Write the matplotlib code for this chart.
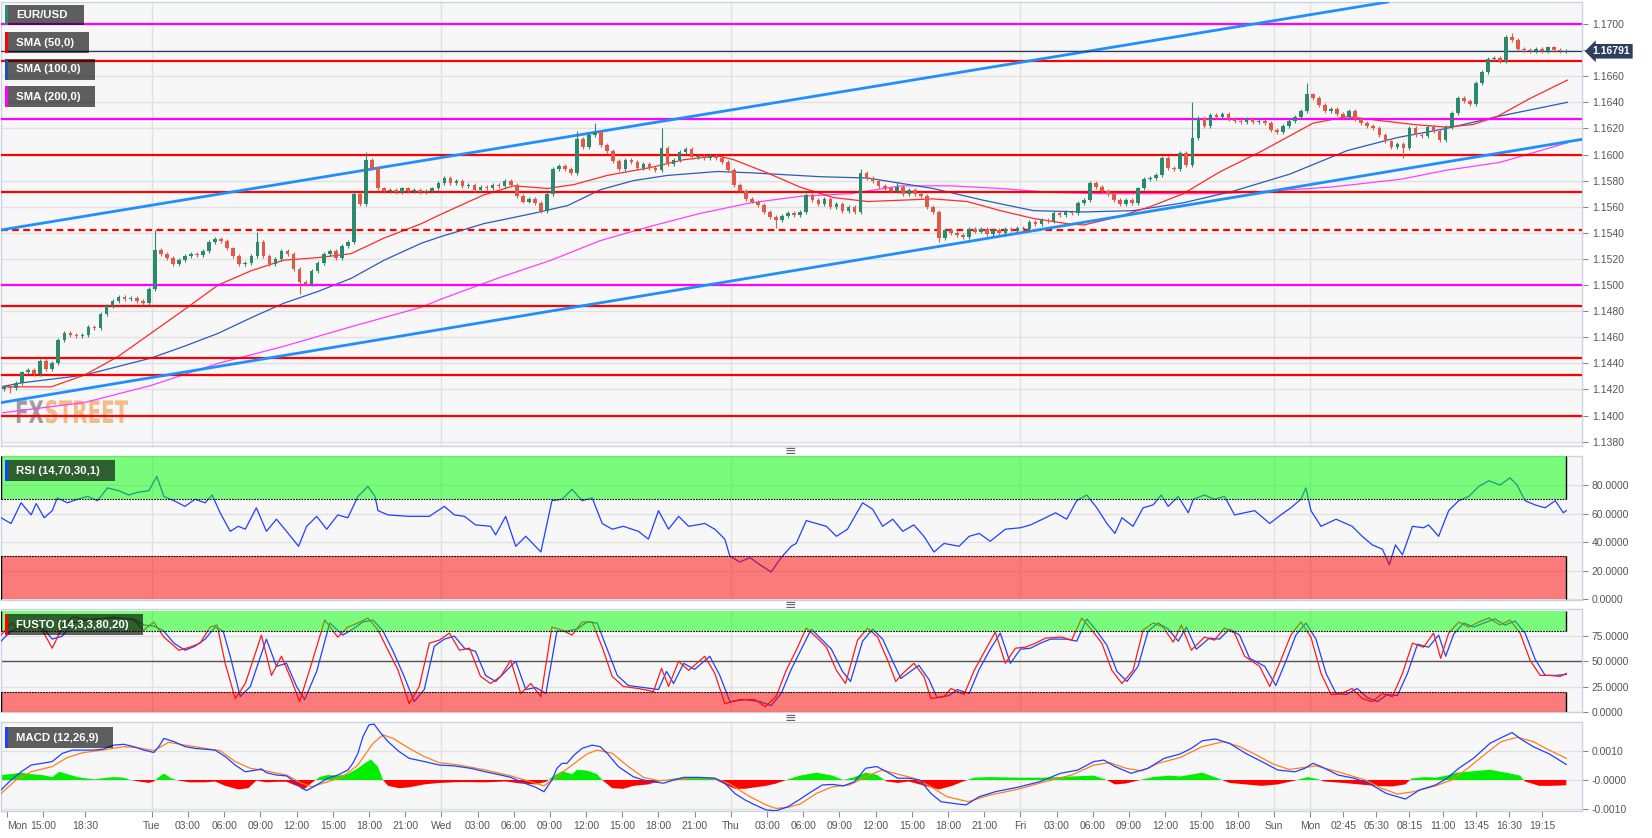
import numpy as np
import matplotlib.pyplot as plt
from matplotlib.patches import Rectangle, PathPatch
from matplotlib.textpath import TextPath
from matplotlib.font_manager import FontProperties
from matplotlib.transforms import blended_transform_factory, Affine2D

plt.rcParams['font.family'] = ['Liberation Sans', 'DejaVu Sans']

W, H = 1652, 838

# ===== time axis: 5-minute steps from Mon 11:30 (weekend removed) =====
tick_pos = [6, 42, 84, 150, 186, 222, 258, 294, 330, 366, 402,
            438, 474, 510, 546, 582, 618, 654, 690,
            726, 762, 798, 834, 870, 906, 942, 978,
            1014, 1050, 1086, 1122, 1158, 1194, 1230,
            1266, 1302, 1335, 1368, 1401, 1434, 1467, 1500, 1533]
tick_lbl = ['Mon', '15:00', '18:30', 'Tue', '03:00', '06:00', '09:00', '12:00', '15:00', '18:00', '21:00',
            'Wed', '03:00', '06:00', '09:00', '12:00', '15:00', '18:00', '21:00',
            'Thu', '03:00', '06:00', '09:00', '12:00', '15:00', '18:00', '21:00',
            'Fri', '03:00', '06:00', '09:00', '12:00', '15:00', '18:00',
            'Sun', 'Mon', '02:45', '05:30', '08:15', '11:00', '13:45', '16:30', '19:15']
day_lines = [150, 438, 726, 1014, 1266, 1302]

# ===== EUR/USD 30-min closes, pips above 1.1400 =====
first_open = 20
close_pips = [22, 21, 25, 33, 35, 32, 42, 36, 40, 58,
              63, 62, 61, 62, 68, 67, 78, 84, 88, 91,
              89, 90, 88, 86, 97, 127, 124, 121, 116, 119,
              122, 124, 123, 126, 133, 135, 134, 128, 122, 116,
              117, 122, 133, 122, 116, 120, 126, 124, 112, 102,
              101, 111, 117, 124, 126, 121, 130, 133, 170, 162,
              196, 190, 174, 172, 173, 171, 174, 172, 173, 171,
              172, 174, 178, 182, 178, 180, 176, 177, 173, 175,
              174, 177, 176, 180, 177, 168, 164, 166, 163, 157,
              170, 189, 191, 189, 186, 212, 206, 215, 217, 207,
              203, 195, 189, 196, 194, 190, 193, 190, 188, 205,
              193, 196, 202, 204, 198, 199, 197, 199, 197, 194,
              188, 177, 172, 166, 164, 161, 156, 152, 150, 153,
              155, 154, 156, 169, 165, 162, 166, 160, 162, 157,
              160, 156, 186, 182, 180, 176, 174, 172, 175, 170,
              173, 170, 168, 160, 156, 136, 142, 140, 138, 137,
              143, 141, 143, 139, 142, 140, 143, 142, 144, 143,
              148, 147, 150, 149, 155, 154, 156, 155, 163, 165,
              178, 175, 172, 170, 165, 162, 165, 163, 174, 181,
              182, 184, 197, 190, 189, 201, 192, 213, 228, 222,
              230, 229, 231, 227, 226, 225, 227, 225, 226, 224,
              219, 217, 222, 226, 229, 233, 246, 243, 238, 233,
              235, 231, 229, 233, 227, 224, 222, 220, 215, 210,
              206, 208, 205, 220, 215, 214, 221, 218, 211, 221,
              232, 243, 241, 239, 255, 263, 273, 274, 272, 290,
              288, 281, 280, 279, 281, 279, 282, 280, 279, 279.1]
# bar index: (high, low) in pips where the wick stands out
wick_extremes = {1: (None, 17), 25: (142, None), 42: (141, None), 49: (None, 93), 60: (202, None),
                 95: (218, None), 98: (224, None), 109: (220, None), 128: (None, 144),
                 142: (189, None), 148: (179, None), 155: (None, 133), 197: (240, None),
                 216: (255, None), 232: (None, 197), 250: (293, None)}

# ===== moving averages (time, pips) =====
sma50_t = [0, 50, 83, 116, 149, 182, 216, 249, 281, 315, 348, 381, 398, 418, 437, 480, 510, 544, 570, 603,
           646, 679, 713, 729, 762, 795, 828, 862, 895, 927, 961, 994, 1027, 1061, 1077, 1110, 1143, 1176,
           1213, 1255, 1305, 1339, 1372, 1405, 1438, 1464, 1488, 1521, 1558]
sma50_v = [22, 22, 31, 45, 63, 81, 100, 111, 119, 121, 124, 136, 141, 147, 154, 169, 176, 174, 177, 184,
           190, 196, 199, 196, 186, 175, 167, 164, 165, 166, 164, 157, 151, 147, 146, 152, 160, 170,
           187, 203, 224, 229, 226, 223, 221, 223, 229, 243, 257]
sma100_t = [0, 20, 83, 149, 182, 216, 249, 281, 315, 348, 381, 398, 418, 437, 480, 530, 564, 596, 629, 663,
            713, 746, 815, 862, 927, 977, 1027, 1077, 1126, 1176, 1226, 1282, 1339, 1389, 1438, 1488, 1558]
sma100_v = [22, 25, 31, 44, 53, 63, 75, 86, 95, 105, 119, 125, 132, 137, 147, 155, 161, 173, 180, 184,
            187, 186, 183, 182, 174, 165, 157, 156, 157, 163, 172, 185, 203, 213, 220, 229, 240]
sma200_t = [0, 83, 149, 216, 281, 348, 418, 437, 497, 547, 596, 646, 696, 746, 795, 845, 895, 944, 994,
            1044, 1093, 1213, 1262, 1322, 1392, 1438, 1491, 1558]
sma200_v = [2, 10, 23, 40, 53, 68, 83, 89, 106, 119, 134, 145, 155, 163, 168, 170, 176, 176, 174,
            171, 170, 170, 172, 175, 181, 188, 194, 209]

# ===== support / resistance and channel =====
red_levels = [1.1672, 1.1600, 1.1571, 1.1484, 1.1444, 1.1431, 1.1400]
dashed_level = 1.1542
magenta_levels = [1.1700, 1.1627, 1.1500]
channel_upper = [(0, 1.15422), (1573, 1.17414)]
channel_lower = [(0, 1.14099), (1573, 1.16117)]

# ===== RSI =====
rsi_t = [0, 10, 20, 30, 35, 43, 51, 56, 66, 76, 86, 96, 106, 117, 127, 137, 147, 155, 162, 172,
         183, 193, 203, 210, 218, 228, 236, 243, 254, 264, 274, 284, 296, 304, 314, 324, 335, 345, 355, 365,
         372, 375, 385, 406, 426, 441, 451, 461, 472, 487, 492, 502, 512, 522, 537, 548, 558, 568, 578, 588,
         598, 608, 619, 634, 644, 654, 664, 674, 684, 700, 710, 720, 725, 735, 745, 755, 766, 776, 786, 791,
         801, 811, 821, 831, 842, 857, 867, 877, 887, 897, 908, 918, 928, 938, 953, 963, 973, 984, 999, 1014,
         1024, 1039, 1049, 1060, 1070, 1080, 1090, 1100, 1108, 1115, 1126, 1136, 1146, 1154, 1161, 1171,
         1181, 1186, 1197, 1207, 1217, 1227, 1247, 1262, 1273, 1283, 1293, 1298, 1303, 1313,
         1328, 1344, 1354, 1364, 1374, 1381, 1387, 1394, 1404, 1415, 1420, 1430, 1440, 1450, 1460, 1470,
         1480, 1491, 1501, 1508, 1516, 1526, 1536, 1546, 1554, 1557]
rsi_v = [57, 53, 67.5, 59, 67, 57, 62, 71, 67.5, 70, 72, 69, 78, 76, 73, 75, 76, 86, 72, 69,
         65, 70, 67.5, 73, 60.5, 47.5, 51, 49, 64, 47.5, 56, 47.5, 37, 51, 58, 49, 59, 57, 72, 79,
         72, 62, 59, 58, 58, 65, 59, 58, 52, 51, 45, 58, 37, 44, 33, 69, 70, 77, 69, 71,
         53, 49, 51, 47.5, 42, 62, 49, 58, 51, 53, 49, 42, 30, 26, 29, 24, 19, 29, 37, 39,
         55, 53, 51, 44, 49, 67.5, 63, 51, 56, 47.5, 52, 44, 33, 39, 37, 44, 46, 40.5, 49, 50,
         52, 57, 60.5, 56, 69, 73, 64, 53, 46, 57, 51, 64, 66, 73, 65, 72,
         60.5, 70, 73, 70, 72, 59, 62, 53, 59, 64, 70, 78, 62, 51,
         56, 51, 44, 38, 35, 24, 38, 31, 51, 50, 52, 44, 62, 69, 72, 79,
         83, 80, 85, 80, 69, 66, 64, 69, 60.5, 62]

# ===== Full stochastic: fast (red) and slow (blue) =====
sto_red_t = [0, 10, 20, 30, 41, 51, 61, 71, 91, 112, 132, 142, 152, 162, 177, 188, 198, 208, 215, 223,
             233, 243, 259, 269, 279, 289, 297, 309, 322, 335, 345, 355, 365, 375, 385, 395, 406, 416, 426, 436,
             446, 456, 466, 477, 487, 497, 507, 517, 527, 537, 548, 558, 568, 578, 588, 598, 608, 619, 634, 649,
             657, 664, 674, 684, 700, 710, 720, 735, 750, 760, 771, 781, 791, 801, 811, 821, 831, 840, 852, 862,
             872, 882, 890, 897, 908, 918, 925, 938, 945, 958, 968, 979, 989, 999, 1009, 1019, 1029, 1039, 1055,
             1065, 1075, 1085, 1095, 1105, 1115, 1126, 1136, 1146, 1156, 1166, 1174, 1184, 1197, 1207, 1217,
             1227, 1237, 1252, 1262, 1273, 1283, 1293, 1303, 1313, 1323, 1333, 1344, 1354, 1364, 1374,
             1384, 1394, 1404, 1415, 1425, 1432, 1440, 1450, 1460, 1470, 1480, 1491, 1501, 1511, 1521, 1531,
             1541, 1551, 1557]
sto_red_v = [76, 88, 81, 88, 81, 63, 84, 94, 91, 94, 91, 81, 89, 74, 61, 64, 68, 84, 86, 48,
             13, 28, 76, 36, 55, 31, 10, 48, 91, 74, 84, 88, 93, 81, 61, 41, 8, 25, 68, 71,
             78, 61, 63, 35, 28, 35, 51, 18, 28, 15, 84, 81, 76, 89, 89, 64, 35, 25, 23, 20,
             43, 25, 50, 41, 55, 38, 8, 12, 12, 5, 15, 41, 61, 83, 74, 64, 41, 28, 71, 83,
             74, 51, 30, 38, 48, 35, 13, 15, 23, 17, 41, 61, 79, 48, 63, 64, 68, 73, 74,
             71, 93, 81, 68, 41, 28, 41, 81, 88, 84, 69, 86, 61, 74, 71, 83,
             78, 55, 45, 25, 51, 76, 89, 74, 38, 17, 18, 23, 13, 10, 18,
             15, 38, 68, 64, 78, 53, 78, 89, 84, 89, 93, 86, 91, 78, 51, 36,
             36, 35, 38]
sto_blue_t = [0, 10, 20, 30, 41, 51, 61, 71, 91, 112, 132, 142, 152, 162, 172, 183, 193, 203, 213, 221,
              228, 238, 248, 264, 274, 284, 294, 302, 314, 327, 340, 350, 360, 370, 380, 390, 401, 411, 421, 431,
              441, 451, 461, 472, 482, 492, 502, 512, 522, 532, 542, 553, 563, 573, 583, 593, 603, 613, 624, 639,
              654, 662, 669, 679, 690, 705, 715, 725, 740, 755, 766, 776, 786, 796, 806, 816, 826, 837, 845, 857,
              867, 877, 887, 895, 902, 913, 923, 931, 943, 951, 963, 973, 984, 994, 1004, 1014, 1024, 1034, 1044,
              1060, 1070, 1080, 1090, 1100, 1110, 1120, 1131, 1141, 1151, 1161, 1171, 1179, 1189, 1202, 1212,
              1222, 1232, 1242, 1257, 1268, 1278, 1288, 1298, 1308, 1318, 1328, 1338, 1349, 1359, 1369,
              1379, 1389, 1399, 1409, 1420, 1430, 1437, 1445, 1455, 1465, 1475, 1486, 1496, 1506, 1516, 1526,
              1536, 1546, 1557]
sto_blue_v = [70, 80, 84, 84, 84, 72, 75, 88, 92, 93, 92, 86, 85, 80, 68, 61, 65, 72, 84, 80,
              55, 15, 25, 72, 45, 48, 25, 12, 40, 88, 76, 82, 89, 91, 80, 60, 35, 10, 22, 65,
              72, 75, 63, 60, 36, 30, 40, 50, 22, 24, 18, 80, 80, 82, 89, 88, 62, 36, 26, 24,
              22, 40, 28, 48, 42, 55, 36, 10, 12, 10, 6, 18, 42, 62, 82, 72, 62, 40, 30, 70,
              82, 72, 50, 33, 38, 46, 32, 14, 16, 22, 18, 42, 62, 78, 48, 62, 63, 68, 72,
              72, 70, 92, 80, 66, 40, 30, 45, 80, 88, 82, 70, 84, 62, 73, 72,
              82, 76, 53, 45, 26, 50, 76, 88, 72, 38, 18, 17, 23, 14, 10,
              17, 16, 38, 67, 64, 76, 55, 77, 88, 84, 88, 92, 86, 90, 78, 52,
              36, 36, 37]

# ===== MACD (12,26,9), values x 0.001 =====
macd_t = [0, 10, 20, 30, 41, 51, 61, 71, 81, 91, 101, 112, 122, 132, 142, 152, 157, 162, 172, 183,
          193, 203, 213, 223, 233, 243, 254, 259, 264, 274, 284, 292, 299, 304, 314, 325, 335, 345, 350, 355,
          360, 366, 371, 378, 385, 396, 406, 421, 436, 451, 467, 482, 497, 507, 517, 532, 540, 548, 553, 558,
          563, 570, 578, 588, 596, 603, 614, 629, 639, 649, 659, 669, 679, 695, 710, 720, 730, 740, 750, 761,
          771, 783, 795, 806, 817, 827, 838, 849, 860, 871, 881, 892, 903, 914, 925, 935, 952, 960, 973, 989,
          1011, 1033, 1054, 1071, 1087, 1097, 1108, 1124, 1141, 1157, 1173, 1184, 1195, 1208, 1222, 1238,
          1254, 1270, 1287, 1297, 1305, 1313, 1330, 1346, 1362, 1378, 1389, 1397, 1411, 1427,
          1438, 1450, 1465, 1481, 1492, 1503, 1513, 1524, 1540, 1557]
macd_v = [-0.34, 0, 0.28, 0.51, 0.57, 0.63, 0.91, 1.02, 1.02, 1.02, 1.05, 1.19, 1.22, 1.14, 1.02, 0.94,
          1.14, 1.42, 1.31, 1.14, 1.08, 1.05, 1.02, 0.80, 0.51, 0.28, 0.34, 0.38, 0.25, 0.17,
          0.14, -0.06, -0.28, -0.36, -0.17, 0.06, 0.17, 0.34, 0.57, 0.91,
          1.48, 1.88, 1.91, 1.59, 1.31, 0.97, 0.74, 0.63, 0.51, 0.48, 0.40, 0.28, 0.17, 0.09, -0.06, -0.25,
          -0.40, 0, 0.40, 0.57, 0.57, 0.85, 1.08, 1.19, 1.14, 0.91, 0.46, 0.11, 0, -0.06,
          -0.11, 0, 0.09, 0.09, 0.06, -0.11, -0.46, -0.68, -0.85, -1.02,
          -1.05, -0.91, -0.65, -0.40, -0.17, -0.15, -0.20, -0.06, 0.40, 0.46,
          0.28, 0.06, 0.06, 0, -0.46, -0.74, -0.82, -0.85, -0.57, -0.40,
          -0.25, -0.06, 0.23, 0.34, 0.63, 0.68, 0.46, 0.23, 0.40, 0.74, 0.89, 1.08, 1.34, 1.40, 1.25, 0.91,
          0.63, 0.34, 0.28, 0.40, 0.57, 0.46, 0.17, 0.06, -0.14, -0.46, -0.57, -0.65, -0.34, -0.17,
          0.05, 0.40, 0.75, 1.25, 1.44, 1.62, 1.37, 1.14, 0.89, 0.53]
signal_t = [0, 15, 30, 51, 66, 81, 101, 122, 137, 152, 167, 183, 203, 218, 233, 248, 264, 284, 299, 309,
            325, 340, 355, 370, 380, 390, 406, 421, 436, 456, 482, 507, 527, 540, 553, 568, 583, 593, 608, 624,
            639, 654, 669, 690, 710, 725, 745, 761, 771, 783, 795, 811, 827, 844, 860, 876, 892, 908, 925, 941,
            962, 984, 1011, 1038, 1065, 1087, 1103, 1119, 1135, 1151, 1173, 1195, 1216, 1232, 1249, 1265,
            1281, 1308, 1330, 1357, 1373, 1389, 1405, 1427, 1443, 1459, 1475, 1492, 1508, 1524, 1540, 1557]
signal_v = [-0.46, 0, 0.28, 0.46, 0.77, 0.93, 1.02, 1.14, 1.10, 1.00, 1.29, 1.19, 1.08, 1.00, 0.63, 0.40,
            0.31, 0.17, -0.11, -0.23, -0.06, 0.11, 0.51, 1.25, 1.54, 1.42, 1.08, 0.80, 0.59, 0.51,
            0.34, 0.14, -0.06, -0.20, 0.11, 0.51, 0.89, 1.02, 0.91, 0.46, 0.09, -0.02, 0, 0.08, 0.06, -0.14,
            -0.57, -0.85, -0.97, -0.93, -0.82, -0.46, -0.23, -0.17, 0.11, 0.34, 0.20, 0.06, -0.23, -0.57,
            -0.74, -0.51, -0.32, -0.06, 0.17, 0.51, 0.59, 0.40, 0.31, 0.57, 0.77, 1.14, 1.31, 1.14, 0.85, 0.55,
            0.36, 0.48, 0.28, 0, -0.28, -0.48, -0.40, -0.20, 0, 0.40, 0.85, 1.31, 1.46, 1.31, 1.02, 0.74]
hist_t = [0, 10, 20, 30, 41, 51, 58, 66, 76, 86, 94, 101, 112, 122, 129, 137, 147, 152, 157, 162,
          170, 177, 188, 203, 213, 223, 236, 246, 254, 264, 274, 284, 294, 302, 309, 317, 325, 335, 345, 355,
          363, 368, 375, 380, 385, 396, 406, 421, 436, 456, 482, 502, 517, 532, 543, 548, 558, 568, 573, 583,
          593, 598, 608, 619, 629, 644, 654, 669, 679, 700, 710, 720, 730, 740, 750, 761, 771, 781, 788, 795,
          811, 827, 838, 849, 860, 871, 881, 892, 903, 919, 933, 946, 957, 968, 984, 1011, 1038, 1065, 1087, 1100,
          1108, 1119, 1133, 1146, 1162, 1173, 1195, 1211, 1222, 1238, 1254, 1270, 1287, 1300, 1311, 1316,
          1335, 1351, 1367, 1384, 1397, 1403, 1416, 1427, 1438, 1448, 1465, 1481, 1497, 1511,
          1516, 1530, 1540, 1557]
hist_v = [0.17, 0.2, 0.25, 0.2, 0.17, 0.1, 0.28, 0.2, 0.1, 0.05, 0.02, 0.06, 0.1, 0.08, 0, -0.05, -0.1,
          -0.05, 0.1, 0.22, 0.05, -0.02, -0.08, -0.08, -0.05, -0.2, -0.32, -0.28, -0.02, -0.08,
          -0.06, -0.06, -0.2, -0.3, -0.1, 0.1, 0.17, 0.15, 0.2, 0.4, 0.6, 0.7, 0.45, 0, -0.2, -0.28, -0.25,
          -0.15, -0.1, -0.07, -0.08, -0.05, -0.12, -0.15, -0.05, 0.1, 0.3, 0.2, 0.35, 0.32,
          0.2, 0, -0.28, -0.3, -0.2, -0.15, -0.05, 0.05, 0.08, 0.08, 0.03, -0.15, -0.3, -0.3, -0.25, -0.2,
          -0.12, 0, 0.08, 0.15, 0.25, 0.15, 0, 0.1, 0.25, 0.18, -0.05, -0.1, -0.05, -0.2,
          -0.32, -0.2, -0.05, 0.08, 0.1, 0.08, 0.08, 0.12, 0.15, 0, -0.15, -0.12, 0, 0.1, 0.15, 0.12, 0.25,
          0.05, -0.1, -0.15, -0.2, -0.15, -0.02, 0.1, 0.02, -0.05, -0.1, -0.15, -0.2, -0.22,
          -0.15, 0.05, 0.1, 0.08, 0.15, 0.25, 0.3, 0.35, 0.25, 0.15, -0.05, -0.2, -0.2, -0.18]

# ===== colours =====
c_up, c_dn = '#2b8a6e', '#e05a48'
c_red, c_mag, c_chan = '#ff0000', '#ff00ff', '#1f8fff'
c_sma50, c_sma100, c_sma200 = '#ff2a2a', '#2a5cb8', '#ff40ff'
c_line_blue, c_orange = '#2040ff', '#ff7f1e'


def pips(v):
    return 1.14 + np.asarray(v, dtype=float) / 1e4


def panel(top, bottom):
    return fig.add_axes([1 / W, 1 - bottom / H, 1581 / W, (bottom - top) / H])


def style(ax, ylim, yticks, ylabels):
    ax.set_facecolor('#f7f7f7')
    ax.set_xlim(0, 1572.6)
    ax.set_ylim(*ylim)
    ax.yaxis.tick_right()
    ax.set_yticks(yticks)
    ax.set_yticklabels(ylabels)
    ax.tick_params(axis='y', length=4, width=0.8, color='#8a8a8a', labelcolor='#555555', labelsize=7.5, pad=3)
    ax.set_xticks(tick_pos)
    ax.tick_params(axis='x', length=0, labelbottom=False)
    ax.set_axisbelow(True)
    ax.grid(axis='y', color='#e1e1e1', lw=1)
    for d in day_lines:
        ax.axvline(d, color='#e1e1e1', lw=1, zorder=0)
    for s in ax.spines.values():
        s.set_color('#c9d3e4')
        s.set_linewidth(1)


def tag(ax, x, y, w, h, text, color):
    bb = ax.get_position()
    aw, ah = bb.width * W, bb.height * H
    x0, y0 = x / aw, 1 - (y + h) / ah
    ax.add_patch(Rectangle((x0, y0), w / aw, h / ah, transform=ax.transAxes, fc='black', alpha=0.62, lw=0, zorder=20))
    ax.add_patch(Rectangle((x0, y0), 2.5 / aw, h / ah, transform=ax.transAxes, fc=color, lw=0, zorder=21))
    ax.text(x0 + 11 / aw, y0 + h / 2 / ah, text, transform=ax.transAxes, color='white', fontsize=8.2,
            fontweight='bold', va='center', ha='left', zorder=22)


def zones(ax, end, lo_top, hi_bot, top):
    ax.fill_between([0, end], hi_bot, top, color='#00ff00', alpha=0.5, lw=0, zorder=5)
    ax.fill_between([0, end], 0, lo_top, color='#ff0000', alpha=0.5, lw=0, zorder=5)
    ax.hlines([hi_bot, lo_top], 0, end, color='black', lw=0.8, ls=(0, (1.5, 1)), zorder=6)
    ax.vlines([0, end], hi_bot, top, color='black', lw=1, zorder=6)
    ax.vlines([0, end], 0, lo_top, color='black', lw=1, zorder=6)


def watermark(ax, x, y, parts, size, squeeze):
    # condensed bold text drawn as a path, x/y in pixels from the figure's bottom-left
    fp = FontProperties(family='DejaVu Sans', weight='bold')
    for word, color, alpha in parts:
        path = TextPath((0, 0), word, size=size, prop=fp)
        tr = Affine2D().scale(squeeze, 1).translate(x, y)
        ax.add_patch(PathPatch(path, transform=tr, fc=color, ec='none', alpha=alpha, zorder=1))
        x += path.get_extents().x1 * squeeze + 1


fig = plt.figure(figsize=(W / 100, H / 100), dpi=100)
fig.patch.set_facecolor('white')

# ===== price panel =====
ax = panel(2, 446)
yt = np.round(np.arange(1.1380, 1.17001, 0.002), 4)
style(ax, (1.137668, 1.171686), yt, ['' if abs(v - 1.168) < 1e-6 else f'{v:.4f}' for v in yt])

n = len(close_pips)
t = np.arange(n) * 6 + 3
close = pips(close_pips)
open_ = np.r_[pips(first_open), close[:-1]]
high = np.maximum(open_, close) + 1.5e-4
low = np.minimum(open_, close) - 1.5e-4
for i, (hi, lo) in wick_extremes.items():
    if hi is not None:
        high[i] = pips(hi)
    if lo is not None:
        low[i] = pips(lo)
up = close >= open_
cols = np.where(up, c_up, c_dn)
body = close - open_
body = np.where(np.abs(body) < 0.25e-4, np.where(up, 0.25e-4, -0.25e-4), body)

watermark(ax, 15, H - 423, [('FX', '#8f8f8f', 0.85), ('STREET', '#f2a860', 0.75)], 31, 0.64)

ax.plot(sma200_t, pips(sma200_v), color=c_sma200, lw=0.9, zorder=2)
ax.plot(sma100_t, pips(sma100_v), color=c_sma100, lw=0.9, zorder=2)
ax.plot(sma50_t, pips(sma50_v), color=c_sma50, lw=0.9, zorder=2)
for lv in red_levels:
    ax.axhline(lv, color=c_red, lw=1.6, zorder=3)
ax.axhline(dashed_level, color=c_red, lw=1.6, ls=(0, (3, 2)), zorder=3)
for lv in magenta_levels:
    ax.axhline(lv, color=c_mag, lw=1.6, zorder=3)
ax.axline(channel_upper[0], channel_upper[1], color=c_chan, lw=2, zorder=3)
ax.axline(channel_lower[0], channel_lower[1], color=c_chan, lw=2, zorder=3)
ax.axhline(close[-1], color='#2b3b58', lw=0.9, zorder=3)

ax.vlines(t, low, high, colors=cols, lw=0.8, zorder=4)
ax.bar(t, body, bottom=open_, width=3.6, color=cols, lw=0, zorder=4.5)

tr = blended_transform_factory(ax.transAxes, ax.transData)
ax.text(1.0068, close[-1], f'{close[-1]:.5f}', transform=tr, color='white', fontsize=7.5, fontweight='bold',
        va='center', ha='left', zorder=30,
        bbox=dict(boxstyle='larrow,pad=0.22', fc='#2d3f5e', ec='none'))

tag(ax, 4, 3, 79, 20, 'EUR/USD', '#2e8b74')
tag(ax, 4, 30, 84, 21, 'SMA (50,0)', '#ff0000')
tag(ax, 4, 57, 90, 21, 'SMA (100,0)', '#1e4fb5')
tag(ax, 4, 84, 90, 21, 'SMA (200,0)', '#ff00ff')

# ===== RSI panel =====
ax_r = panel(456, 600)
style(ax_r, (-0.7, 100.35), [0, 20, 40, 60, 80], ['0.0000', '20.0000', '40.0000', '60.0000', '80.0000'])
ax_r.plot(rsi_t, rsi_v, color=c_line_blue, lw=0.9, zorder=3)
zones(ax_r, rsi_t[-1], 30, 70, 100)
tag(ax_r, 4, 4, 110, 21, 'RSI (14,70,30,1)', '#2040ff')

# ===== FUSTO panel =====
ax_s = panel(609, 712)
style(ax_s, (-0.3, 101.9), [0, 25, 50, 75], ['0.0000', '25.0000', '50.0000', '75.0000'])
ax_s.axhline(50, color='#555555', lw=1, zorder=2)
ax_s.plot(sto_blue_t, sto_blue_v, color=c_line_blue, lw=0.9, zorder=3)
ax_s.plot(sto_red_t, sto_red_v, color='#ff1a1a', lw=0.9, zorder=3)
zones(ax_s, sto_red_t[-1], 20, 80, 100)
tag(ax_s, 4, 5, 138, 21, 'FUSTO (14,3,3,80,20)', '#ff0000')

# ===== MACD panel =====
ax_m = panel(722, 811)
style(ax_m, (-1.058, 1.98), [-1, 0, 1], ['-0.0010', '-0.0000', '0.0010'])
hv = np.array(hist_v)
ax_m.fill_between(hist_t, 0, hv, where=hv >= 0, interpolate=True, color='#00ee00', lw=0, zorder=2)
ax_m.fill_between(hist_t, 0, hv, where=hv <= 0, interpolate=True, color='#ff0000', lw=0, zorder=2)
ax_m.plot(signal_t, signal_v, color=c_orange, lw=0.9, zorder=3)
ax_m.plot(macd_t, macd_v, color=c_line_blue, lw=0.9, zorder=3)
ax_m.set_xticks(tick_pos)
ax_m.set_xticklabels(tick_lbl)
ax_m.tick_params(axis='x', length=4, width=0.8, color='#8a8a8a', labelcolor='#555555', labelsize=7.5,
                 labelbottom=True, pad=3)
ax_m.get_xticklabels()[0].set_ha('left')
tag(ax_m, 4, 5, 108, 21, 'MACD (12,26,9)', '#2040ff')

for yy in (451, 605, 718):
    fig.text(790 / W, 1 - yy / H, '≡', ha='center', va='center', fontsize=10, color='#666666',
             family='DejaVu Sans')

fig.savefig('out.png', dpi=100)
